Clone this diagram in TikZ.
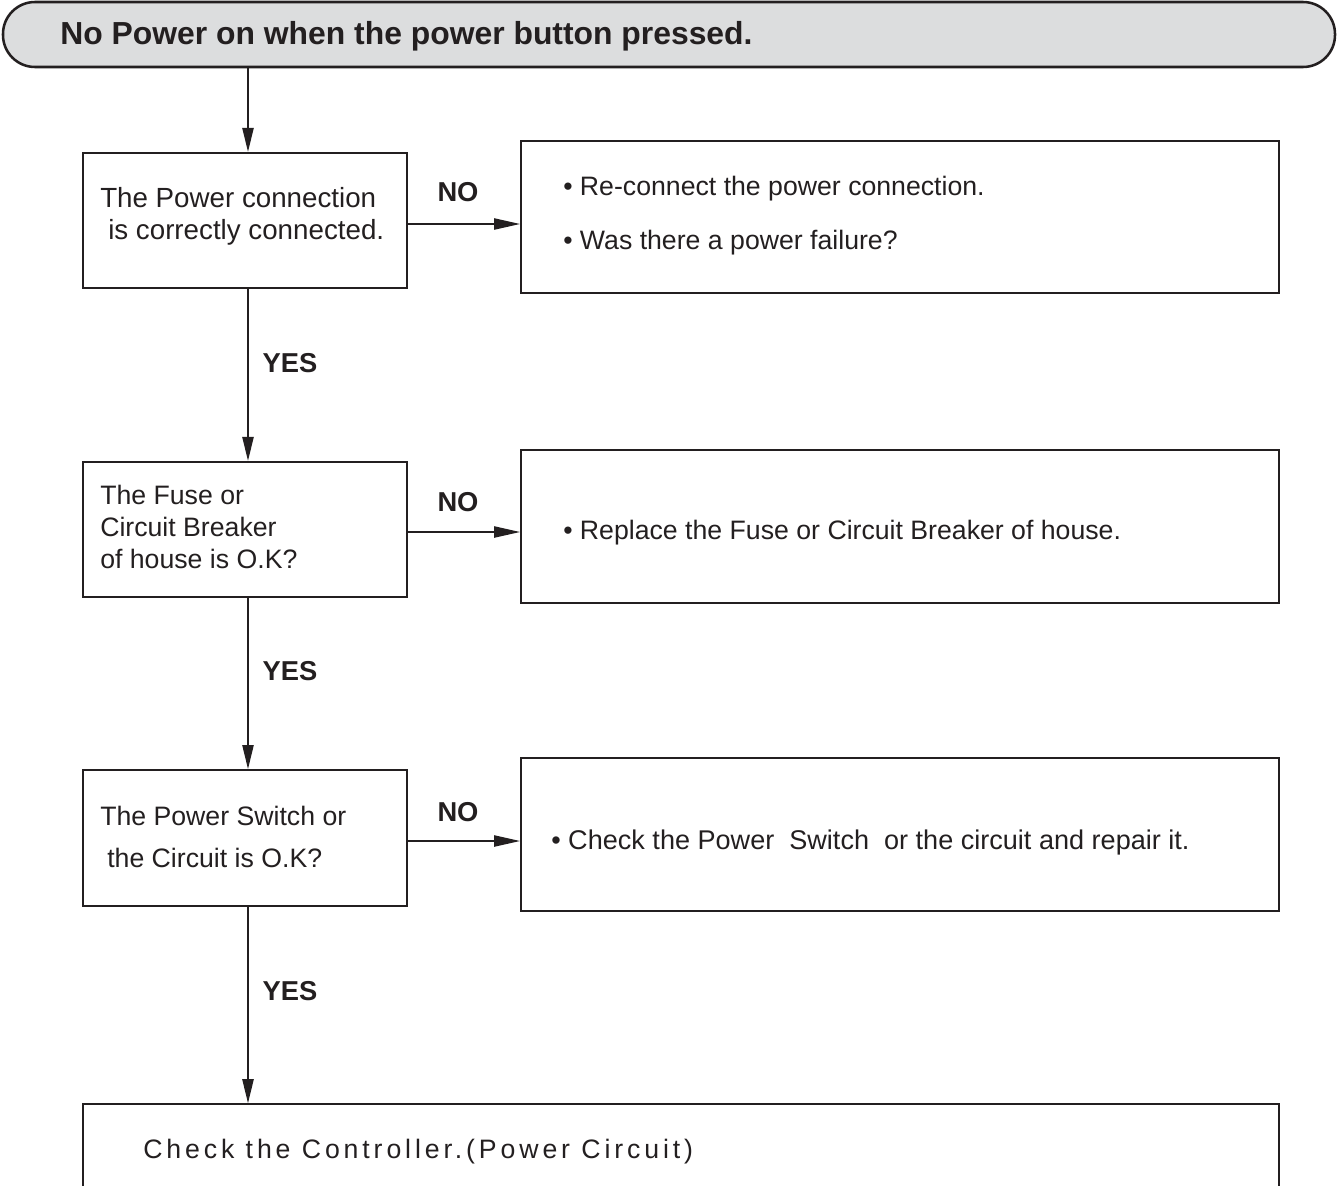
\documentclass[tikz,border=0pt]{standalone}
\usepackage{fontspec}
\setmainfont{Liberation Sans}
\usetikzlibrary{arrows.meta}
\definecolor{headgrey}{HTML}{DCDDDE}
\definecolor{ink}{HTML}{231F20}
\begin{document}
\begin{tikzpicture}[x=0.75pt,y=-0.75pt,
  box/.style={draw=ink, line width=1.5pt, rectangle, inner sep=0pt},
  smallbox/.style={box, minimum width=243pt, minimum height=101.5pt},
  widebox/.style={box, minimum width=568.5pt, minimum height=114.5pt},
  conn/.style={draw=ink, line width=1pt, -{Triangle[length=18pt,width=8.5pt]}},
  hconn/.style={conn, -{Triangle[length=19.5pt,width=8.5pt]}},
  lbl/.style={font=\fontsize{20.5}{25}\selectfont\bfseries, inner sep=0pt, text=ink},
  txt/.style={font=\fontsize{20}{25}\selectfont, inner sep=0pt, anchor=base west, text=ink},
  bigtxt/.style={txt, font=\fontsize{20.8}{25}\selectfont},
]
\clip (0,0) rectangle (1338,1185);
\useasboundingbox (0,0) rectangle (1338,1185);

% header
\node[draw=ink, line width=1.9pt, fill=headgrey, rounded corners=24pt,
      minimum width=999pt, minimum height=48.75pt, inner sep=0pt] (head) at (669,34.5) {};
\node[font=\fontsize{23.9}{28}\selectfont\bfseries, inner sep=0pt, anchor=base west, text=ink] (title) at (60,44.5) {No Power on when the power button pressed.};

% left boxes
\node[smallbox] (b1) at (245,220.5) {};
\node[smallbox] (b2) at (245,529.5) {};
\node[smallbox, minimum height=102pt] (b3) at (245,838) {};

% right boxes
\node[widebox] (r1) at (900,217) {};
\node[widebox] (r2) at (900,526.5) {};
\node[widebox] (r3) at (900,834.5) {};

% bottom box
\node[box, minimum width=897pt, minimum height=110pt] (b4) at (681,1177.5) {};

% texts
\node[bigtxt] (t1a) at (100,207) {The Power connection};
\node[bigtxt] (t1b) at (108,239) {is correctly connected.};
\node[txt] (r1a) at (563,195) {• Re-connect the power connection.};
\node[txt] (r1b) at (563,249) {• Was there a power failure?};

\node[txt] (t2a) at (100,504) {The Fuse or};
\node[txt] (t2b) at (100,536) {Circuit Breaker};
\node[txt] (t2c) at (100,568) {of house is O.K?};
\node[txt] (r2a) at (563,539) {• Replace the Fuse or Circuit Breaker of house.};

\node[txt] (t3a) at (100,825) {The Power Switch or};
\node[txt] (t3b) at (107,867) {the Circuit is O.K?};
\node[txt, font=\fontsize{20.3}{25}\selectfont] (r3a) at (551,849) {• Check the Power\ \ Switch\ \ or the circuit and repair it.};

\node[txt, font=\fontsize{20}{25}\selectfont\addfontfeature{LetterSpace=14.6}] (t4) at (143,1158) {Check the Controller.(Power Circuit)};

% labels
\node[lbl] (no1) at (458,192) {NO};
\node[lbl] (no2) at (458,502) {NO};
\node[lbl] (no3) at (458,812) {NO};
\node[lbl] (yes1) at (290,363) {YES};
\node[lbl] (yes2) at (290,671) {YES};
\node[lbl] (yes3) at (290,991) {YES};

% connectors
\coordinate (vx) at (248,0);
\draw[conn] (head.south -| vx) -- (b1.north -| vx);
\draw[conn] (b1.south -| vx) -- (b2.north -| vx);
\draw[conn] (b2.south -| vx) -- (b3.north -| vx);
\draw[conn] (b3.south -| vx) -- (b4.north -| vx);

\coordinate (h1) at (0,224);
\coordinate (h2) at (0,532);
\coordinate (h3) at (0,841);
\draw[hconn] (b1.east |- h1) -- (r1.west |- h1);
\draw[hconn] (b2.east |- h2) -- (r2.west |- h2);
\draw[hconn] (b3.east |- h3) -- (r3.west |- h3);
\end{tikzpicture}
\end{document}
